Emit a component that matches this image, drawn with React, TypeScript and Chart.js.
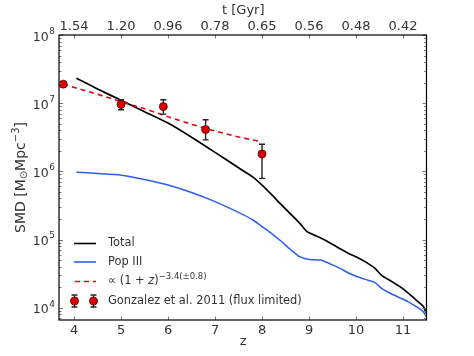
import React, { useEffect, useRef } from "react";
import { Chart, registerables } from "chart.js";

Chart.register(...registerables);

// ---- data ----
const zTotal = [4.05, 4.5, 5.0, 5.5, 6.0, 6.5, 7.0, 7.5, 7.8, 8.0, 8.2, 8.4, 8.6, 8.8, 8.95, 9.1, 9.25, 9.45, 9.65, 9.85, 10.0, 10.2, 10.4, 10.55, 10.75, 10.95, 11.1, 11.3, 11.43, 11.5];
const smdTotal = [2.32e7, 1.62e7, 1.1e7, 7.5e6, 5.1e6, 3.16e6, 1.9e6, 1.13e6, 8.3e5, 6.3e5, 4.6e5, 3.3e5, 2.4e5, 1.74e5, 1.32e5, 1.17e5, 1.05e5, 8.9e4, 7.4e4, 6.2e4, 5.6e4, 4.7e4, 3.8e4, 2.95e4, 2.45e4, 2.0e4, 1.66e4, 1.26e4, 1.05e4, 8.3e3];

const zPop3 = [4.05, 4.5, 5.0, 5.5, 6.0, 6.5, 7.0, 7.5, 7.8, 8.0, 8.2, 8.4, 8.6, 8.8, 9.0, 9.25, 9.45, 9.65, 9.85, 10.0, 10.2, 10.4, 10.55, 10.75, 10.95, 11.1, 11.3, 11.42, 11.5];
const smdPop3 = [9.7e5, 9.3e5, 8.8e5, 7.6e5, 6.3e5, 4.9e5, 3.6e5, 2.5e5, 1.95e5, 1.55e5, 1.23e5, 9.5e4, 7.2e4, 5.6e4, 5.1e4, 5.0e4, 4.4e4, 3.8e4, 3.2e4, 2.9e4, 2.6e4, 2.35e4, 1.9e4, 1.6e4, 1.38e4, 1.23e4, 1.02e4, 8.9e3, 7.4e3];

const zFit = [3.77, 4.5, 5.0, 5.5, 6.0, 6.5, 7.0, 7.5, 8.0];
const smdFit = [1.9e7, 1.35e7, 1.05e7, 8.3e6, 6.3e6, 4.9e6, 3.9e6, 3.2e6, 2.7e6];

const zObs = [3.77, 5.0, 5.9, 6.8, 8.0];
const smdObs = [1.9e7, 9.6e6, 8.9e6, 4.1e6, 1.8e6];
const smdObsLow = [1.75e7, 8.0e6, 6.9e6, 2.9e6, 7.9e5];
const smdObsHigh = [2.05e7, 1.12e7, 1.12e7, 5.7e6, 2.5e6];

const zTicks = [4, 5, 6, 7, 8, 9, 10, 11];
const tTickLabels = ["1.54", "1.20", "0.96", "0.78", "0.65", "0.56", "0.48", "0.42"];
const yDecades = [4, 5, 6, 7, 8];

const legendLabels = ["Total", "Pop III", "∝ (1 + ", "Gonzalez et al. 2011 (flux limited)"];

const FONT = '"DejaVu Sans", sans-serif';
const TEXT = "#333";
const BLUE = "#2e5fe6";
const RED = "#e8000b";

function pts(xs: number[], ys: number[]) {
  return xs.map((x, i) => ({ x, y: ys[i] }));
}

const mplPlugin = {
  id: "mplAxes",
  beforeDatasetDraw(chart: any, args: any) {
    if (args.index !== 0) return;
    const { ctx, scales } = chart;
    const x = scales.x, y = scales.y;
    ctx.save();
    ctx.strokeStyle = "#222";
    ctx.lineWidth = 1.4;
    zObs.forEach((z, i) => {
      const px = x.getPixelForValue(z);
      const y1 = y.getPixelForValue(smdObsLow[i]);
      const y2 = y.getPixelForValue(smdObsHigh[i]);
      ctx.beginPath();
      ctx.moveTo(px, y1); ctx.lineTo(px, y2);
      ctx.moveTo(px - 3, y1); ctx.lineTo(px + 3, y1);
      ctx.moveTo(px - 3, y2); ctx.lineTo(px + 3, y2);
      ctx.stroke();
    });
    ctx.restore();
  },
  afterDraw(chart: any) {
    const { ctx, chartArea: a, scales } = chart;
    const x = scales.x, y = scales.y;
    ctx.save();
    // ticks (inward)
    ctx.strokeStyle = "#777";
    ctx.lineWidth = 1;
    ctx.beginPath();
    zTicks.forEach((z) => {
      const px = Math.round(x.getPixelForValue(z)) + 0.5;
      ctx.moveTo(px, a.bottom); ctx.lineTo(px, a.bottom - 3.5);
      ctx.moveTo(px, a.top); ctx.lineTo(px, a.top + 3.5);
    });
    for (let d = 3; d <= 8; d++) {
      for (let m = 1; m <= 9; m++) {
        const v = m * Math.pow(10, d);
        if (v < y.min || v > y.max) continue;
        const py = Math.round(y.getPixelForValue(v)) + 0.5;
        const len = m === 1 ? 4 : 2.5;
        ctx.moveTo(a.left, py); ctx.lineTo(a.left + len, py);
        ctx.moveTo(a.right, py); ctx.lineTo(a.right - len, py);
      }
    }
    ctx.stroke();
    // frame
    ctx.strokeStyle = "#000";
    ctx.lineWidth = 1.2;
    ctx.strokeRect(a.left, a.top, a.right - a.left, a.bottom - a.top);

    // tick labels
    ctx.fillStyle = TEXT;
    ctx.textBaseline = "middle";
    ctx.textAlign = "center";
    ctx.font = `13px ${FONT}`;
    zTicks.forEach((z, i) => {
      const px = x.getPixelForValue(z);
      ctx.fillText(String(z), px, a.bottom + 10.5);
      ctx.fillText(tTickLabels[i], px, a.top - 8);
    });
    // y labels 10^n
    yDecades.forEach((d) => {
      const py = y.getPixelForValue(Math.pow(10, d));
      ctx.font = `9px ${FONT}`;
      const sup = String(d);
      const sw = ctx.measureText(sup).width;
      const right = a.left - 4;
      ctx.textAlign = "left";
      ctx.fillText(sup, right - sw, py - 3.5);
      ctx.font = `12.5px ${FONT}`;
      ctx.textAlign = "right";
      ctx.fillText("10", right - sw - 0.5, py + 2.5);
    });

    // axis titles
    ctx.textAlign = "center";
    ctx.font = `13px ${FONT}`;
    ctx.fillText("z", (a.left + a.right) / 2 + 0.5, a.bottom + 22);
    ctx.fillText("t [Gyr]", (a.left + a.right) / 2 + 0.5, 11);

    // y title: SMD [M_sun Mpc^-3]
    ctx.save();
    ctx.translate(21, (a.top + a.bottom) / 2);
    ctx.rotate(-Math.PI / 2);
    const big = `14px ${FONT}`, small = `10px ${FONT}`;
    const parts: [string, string, number][] = [
      ["SMD [M", big, 0],
      ["⊙", small, 3],
      ["Mpc", big, 0],
      ["−3", small, -5],
      ["]", big, 0],
    ];
    let tw = 0;
    parts.forEach(([t, f]) => { ctx.font = f; tw += ctx.measureText(t).width; });
    let cx = -tw / 2;
    ctx.textAlign = "left";
    parts.forEach(([t, f, dy]) => {
      ctx.font = f;
      ctx.fillText(t, cx, dy);
      cx += ctx.measureText(t).width;
    });
    ctx.restore();

    // legend
    const lx0 = 74, lx1 = 96, tx = 108;
    const rows = [243.5, 262, 281.5, 301];
    ctx.lineWidth = 1.6;
    ctx.strokeStyle = "#000";
    ctx.beginPath(); ctx.moveTo(lx0, rows[0]); ctx.lineTo(lx1, rows[0]); ctx.stroke();
    ctx.strokeStyle = BLUE;
    ctx.beginPath(); ctx.moveTo(lx0, rows[1]); ctx.lineTo(lx1, rows[1]); ctx.stroke();
    ctx.strokeStyle = RED;
    ctx.setLineDash([5, 4]);
    ctx.beginPath(); ctx.moveTo(lx0 + 1, rows[2]); ctx.lineTo(lx1, rows[2]); ctx.stroke();
    ctx.setLineDash([]);
    [74.5, 93.5].forEach((mx) => {
      ctx.strokeStyle = "#222";
      ctx.lineWidth = 1.4;
      ctx.beginPath();
      ctx.moveTo(mx, rows[3] - 6); ctx.lineTo(mx, rows[3] + 6);
      ctx.moveTo(mx - 3, rows[3] - 6); ctx.lineTo(mx + 3, rows[3] - 6);
      ctx.moveTo(mx - 3, rows[3] + 6); ctx.lineTo(mx + 3, rows[3] + 6);
      ctx.stroke();
      ctx.beginPath();
      ctx.arc(mx, rows[3], 4, 0, Math.PI * 2);
      ctx.fillStyle = "#dd0000";
      ctx.fill();
      ctx.strokeStyle = "#550000";
      ctx.lineWidth = 0.8;
      ctx.stroke();
    });
    ctx.fillStyle = TEXT;
    ctx.textAlign = "left";
    const lf = `11.4px ${FONT}`;
    ctx.font = lf;
    ctx.fillText(legendLabels[0], tx, rows[0]);
    ctx.fillText(legendLabels[1], tx, rows[1]);
    ctx.fillText(legendLabels[3], tx, rows[3]);
    // fit label with math
    let px = tx;
    ctx.fillText(legendLabels[2], px, rows[2]);
    px += ctx.measureText(legendLabels[2]).width;
    ctx.font = `italic 11.4px ${FONT}`;
    ctx.fillText("z", px, rows[2]);
    px += ctx.measureText("z").width;
    ctx.font = lf;
    ctx.fillText(")", px, rows[2]);
    px += ctx.measureText(")").width;
    ctx.font = `8.5px ${FONT}`;
    ctx.fillText("−3.4(±0.8)", px, rows[2] - 5);
    ctx.restore();
  },
};

export default function App() {
  const ref = useRef<HTMLCanvasElement>(null);
  useEffect(() => {
    if (!ref.current) return;
    const chart = new Chart(ref.current, {
      type: "scatter",
      data: {
        datasets: [
          {
            label: "Gonzalez et al. 2011 (flux limited)",
            data: pts(zObs, smdObs),
            showLine: false,
            pointRadius: 4,
            pointBackgroundColor: "#dd0000",
            pointBorderColor: "#550000",
            pointBorderWidth: 0.8,
            order: 0,
          },
          {
            label: "fit",
            data: pts(zFit, smdFit),
            showLine: true,
            borderColor: RED,
            borderWidth: 1.6,
            borderDash: [5, 4],
            pointRadius: 0,
            tension: 0,
            order: 1,
          },
          {
            label: "Total",
            data: pts(zTotal, smdTotal),
            showLine: true,
            borderColor: "#000",
            borderWidth: 1.7,
            pointRadius: 0,
            tension: 0.2,
            order: 2,
          },
          {
            label: "Pop III",
            data: pts(zPop3, smdPop3),
            showLine: true,
            borderColor: BLUE,
            borderWidth: 1.5,
            pointRadius: 0,
            tension: 0.2,
            order: 3,
          },
        ],
      },
      options: {
        animation: false,
        responsive: false,
        maintainAspectRatio: false,
        layout: { padding: { left: 59, right: 47.5, top: 35, bottom: 36 } },
        plugins: { legend: { display: false }, tooltip: { enabled: false } },
        events: [],
        scales: {
          x: { type: "linear", display: false, min: 3.68, max: 11.5 },
          y: { type: "logarithmic", display: false, min: 6600, max: 1e8 },
        },
      },
      plugins: [mplPlugin],
    });
    return () => chart.destroy();
  }, []);
  return (
    <div style={{ position: "fixed", left: 0, top: 0, width: 474, height: 356, background: "#fff" }}>
      <canvas ref={ref} width={474} height={356} style={{ width: 474, height: 356, display: "block" }} />
    </div>
  );
}
